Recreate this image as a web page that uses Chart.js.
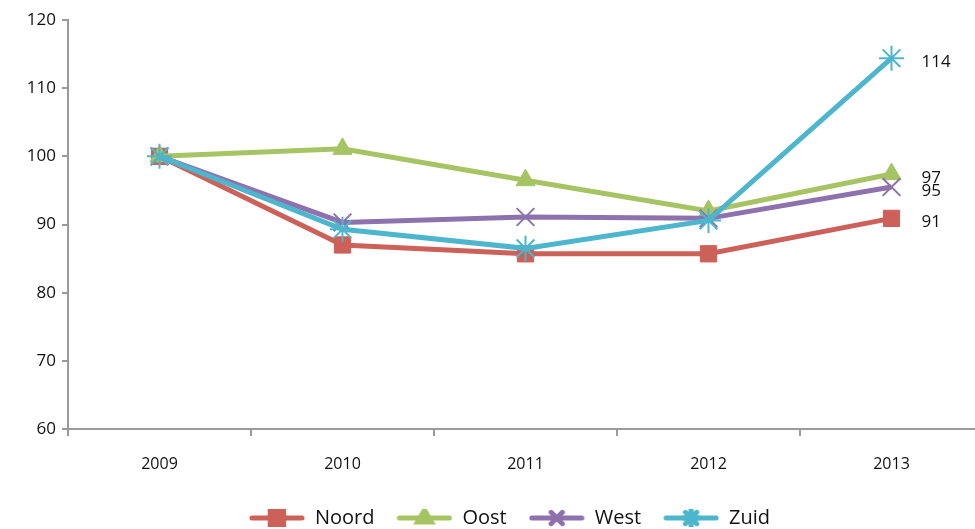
<!DOCTYPE html>
<html>
<head>
<meta charset="utf-8">
<script src="https://cdn.jsdelivr.net/npm/chart.js@4.4.1/dist/chart.umd.min.js"></script>
<style>
  html, body { margin: 0; padding: 0; background: #fff; }
  #wrap { width: 975px; height: 529px; }
</style>
</head>
<body>
<div id="wrap"><canvas id="grafiek"></canvas></div>
<script>
// jaren en indexwaarden (2009 = 100)
const jaren = ['2009', '2010', '2011', '2012', '2013'];
const noord = [100, 87.0, 85.7, 85.7, 90.9];
const oost = [100, 101.1, 96.5, 92.0, 97.4];
const west = [100, 90.3, 91.1, 90.9, 95.5];
const zuid = [100, 89.3, 86.5, 90.6, 114.4];
const eindLabels = ['91', '97', '95', '114'];

const kleuren = ['#CC6159', '#A6C464', '#8D72AE', '#4DB6CD'];
const vormen = ['rect', 'triangle', 'crossRot', 'star'];
const namen = ['Noord', 'Oost', 'West', 'Zuid'];
const reeksen = [noord, oost, west, zuid];

const fontNaam = "'Open Sans', 'DejaVu Sans', sans-serif";

// klein plaatje voor de legenda: lijn met marker erin
function legendaIcoon(kleur, vorm) {
  const c = document.createElement('canvas');
  c.width = 56; c.height = 18;
  const g = c.getContext('2d');
  g.strokeStyle = kleur;
  g.fillStyle = kleur;
  g.lineWidth = 5;
  g.lineCap = 'round';
  g.beginPath(); g.moveTo(3, 9); g.lineTo(53, 9); g.stroke();
  Chart.helpers.drawPoint(g, {pointStyle: vorm, radius: vorm === 'rect' ? 9.5 : 8, rotation: 0, borderWidth: 2}, 28, 9);
  if (vorm === 'rect' || vorm === 'triangle') g.fill();
  g.lineWidth = 2;
  g.stroke();
  return c;
}

const eindwaarden = {
  id: 'eindwaarden',
  afterLayout(chart) {
    // legenda staat in het origineel iets rechts van het midden en lager
    chart.legend.left += 22;
    chart.legend.right += 22;
    chart.legend.top += 9;
    chart.legend.bottom += 9;
    // plotgebied loopt in het origineel net voorbij de rechterrand
    const x = chart.scales.x;
    x.right += 8;
    x.width += 8;
    chart.chartArea.right += 8;
    chart.chartArea.width += 8;
    x.configure();
  },
  afterDatasetsDraw(chart) {
    const ctx = chart.ctx;
    ctx.save();
    ctx.font = "17px " + fontNaam;
    ctx.fillStyle = '#111';
    ctx.textAlign = 'left';
    ctx.textBaseline = 'middle';
    chart.data.datasets.forEach((ds, i) => {
      const meta = chart.getDatasetMeta(i);
      const p = meta.data[meta.data.length - 1];
      ctx.fillText(eindLabels[i], p.x + 30, p.y + 4);
    });
    ctx.restore();
  }
};

const ctx = document.getElementById('grafiek');
new Chart(ctx, {
  type: 'line',
  data: {
    labels: jaren,
    datasets: reeksen.map((r, i) => ({
      label: namen[i],
      data: r,
      borderColor: kleuren[i],
      backgroundColor: kleuren[i],
      borderWidth: 5,
      pointStyle: vormen[i],
      pointRadius: i === 0 ? 11.5 : (i === 1 ? 11 : 12.5),
      pointBorderWidth: i < 2 ? 1 : 2,
      pointBorderColor: kleuren[i],
      pointBackgroundColor: kleuren[i],
      tension: 0,
      clip: false,
      order: 4 - i
    }))
  },
  options: {
    responsive: true,
    maintainAspectRatio: false,
    animation: false,
    layout: { autoPadding: false, padding: { top: 20, right: 0, left: 0, bottom: 0 } },
    plugins: {
      tooltip: { enabled: false },
      legend: {
        position: 'bottom',
        labels: {
          usePointStyle: true,
          pointStyleWidth: 56,
          padding: 22,
          color: '#111',
          font: { size: 20, family: fontNaam },
          generateLabels(chart) {
            return chart.data.datasets.map((ds, i) => ({
              text: ds.label,
              pointStyle: legendaIcoon(kleuren[i], vormen[i]),
              fillStyle: kleuren[i],
              strokeStyle: kleuren[i],
              lineWidth: 0,
              datasetIndex: i,
              fontColor: '#111'
            }));
          }
        }
      }
    },
    scales: {
      x: {
        offset: true,
        grid: { display: true, drawOnChartArea: false, offset: true, tickLength: 7, color: '#9a9a9a', lineWidth: 2 },
        border: { color: '#9a9a9a', width: 2 },
        ticks: { color: '#111', padding: 19, font: { size: 16, family: fontNaam } },
        afterFit(s) { s.height = 48; s.paddingLeft = 0; s.paddingRight = 0; }
      },
      y: {
        min: 60,
        max: 120,
        grid: { display: true, drawOnChartArea: false, tickLength: 6, color: '#9a9a9a', lineWidth: 2 },
        border: { color: '#9a9a9a', width: 2 },
        ticks: { stepSize: 10, color: '#111', padding: 6, font: { size: 17, family: fontNaam } },
        afterFit(s) { s.width = 68; }
      }
    }
  },
  plugins: [eindwaarden]
});
</script>
</body>
</html>
